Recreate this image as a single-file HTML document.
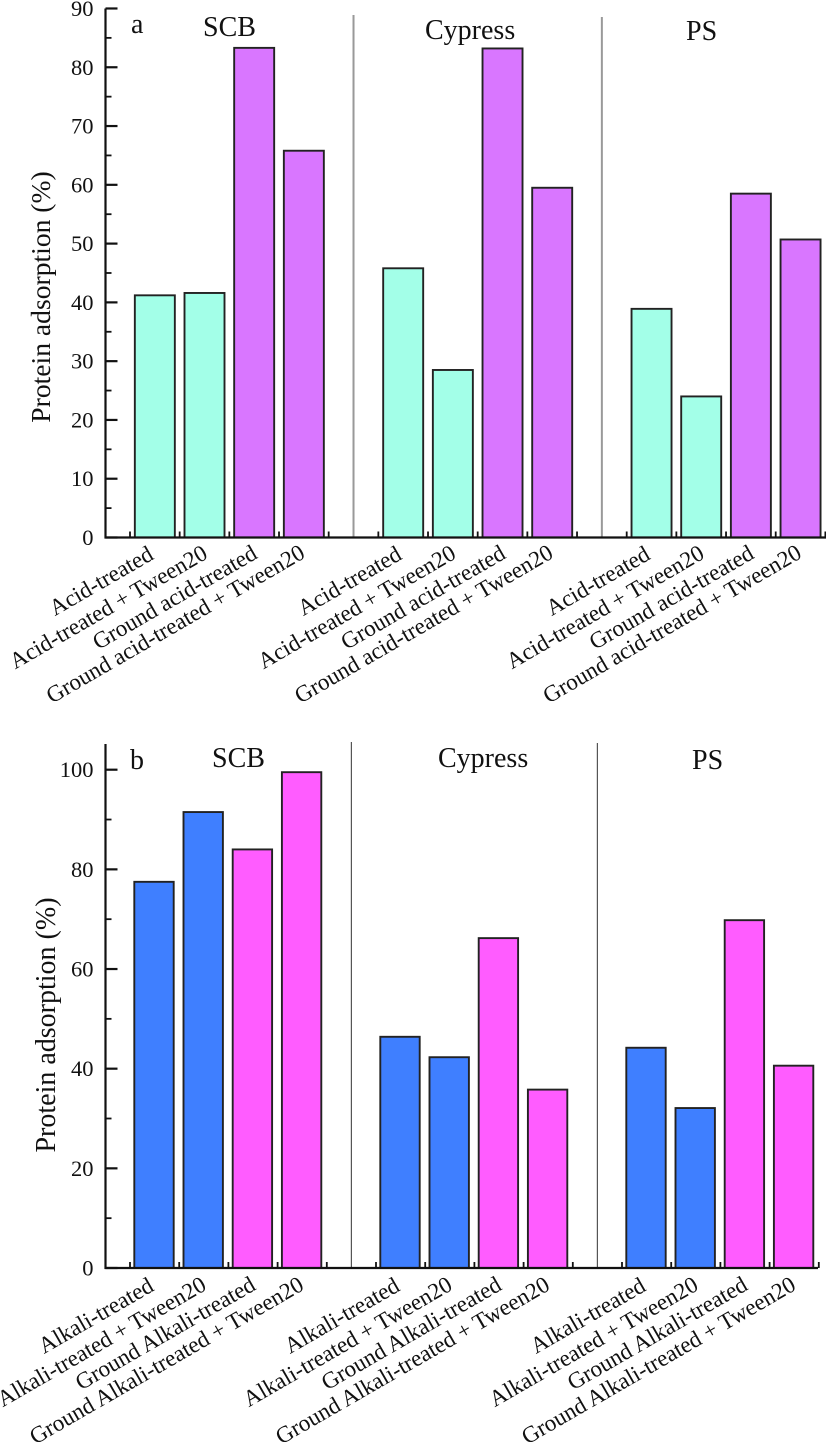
<!DOCTYPE html>
<html>
<head>
<meta charset="utf-8">
<style>
html,body{margin:0;padding:0;background:#fff;width:826px;height:1442px;overflow:hidden}
svg{display:block}
text{font-family:"Liberation Serif",serif;fill:#111}
</style>
</head>
<body>
<svg id="fig" width="826" height="1442" viewBox="0 0 826 1442" xmlns="http://www.w3.org/2000/svg"></svg>
<script>
const groupsA = ["SCB", "Cypress", "PS"];
const categoriesA = ["Acid-treated", "Acid-treated + Tween20", "Ground acid-treated", "Ground acid-treated + Tween20"];
const scbA = [41.2, 41.6, 83.3, 65.8];
const cypressA = [45.8, 28.5, 83.2, 59.5];
const psA = [38.9, 24.0, 58.5, 50.7];
const yTicksA = [0, 10, 20, 30, 40, 50, 60, 70, 80, 90];
const yMinorA = [5, 15, 25, 35, 45, 55, 65, 75, 85];

const groupsB = ["SCB", "Cypress", "PS"];
const categoriesB = ["Alkali-treated", "Alkali-treated + Tween20", "Ground Alkali-treated", "Ground Alkali-treated + Tween20"];
const scbB = [77.5, 91.5, 84.0, 99.5];
const cypressB = [46.4, 42.3, 66.2, 35.8];
const psB = [44.2, 32.1, 69.8, 40.6];
const yTicksB = [0, 20, 40, 60, 80, 100];
const yMinorB = [10, 30, 50, 70, 90];

const NS = "http://www.w3.org/2000/svg";
const fig = document.getElementById("fig");

function make(parent, tag, attrs, txt) {
  const el = document.createElementNS(NS, tag);
  for (const k in attrs) el.setAttribute(k, attrs[k]);
  if (txt !== undefined) el.textContent = txt;
  parent.appendChild(el);
  return el;
}

function drawPanel(p) {
  const g = make(fig, "g", {});
  
  

  const yScale = v => p.y0 - v * p.yUnit;
  const slotX = i => p.x0 + i * p.step;
  const barW = p.barW;

  p.series.forEach((vals, gi) => {
    vals.forEach((v, ci) => {
      const slot = gi * 5 + ci;
      const x = slotX(slot) + (p.step - barW) / 2 + p.barDx;
      const bar = make(g, "rect", {
        x: x, y: yScale(v), width: barW, height: p.y0 - yScale(v),
        fill: ci < 2 ? p.colorA : p.colorB, stroke: "#222", "stroke-width": 1.9
      });
      
      

      const n = ci === 0 ? p.catNudge[0] : (ci === 3 ? p.catNudge[2] : p.catNudge[1]);
      const lab = make(g, "text", {
        "text-anchor": "end", "font-size": p.catSize,
        transform: "translate(" + (slotX(slot) + p.step / 2 + n[0]) + "," + (p.catY + n[1]) + ") rotate(-30)"
      }, p.categories[ci]);
      
      
    });
  });

  p.dividers.forEach((d, i) => {
    const line = make(g, "line", {
      x1: slotX(4 + i * 5) + p.step / 2, x2: slotX(4 + i * 5) + p.step / 2,
      y1: d, y2: p.y0, stroke: p.divColor, "stroke-width": p.divWidth
    });
    
    
  });

  for (let i = 0; i < 15; i++) {
    const t = make(g, "line", {
      x1: slotX(i), x2: slotX(i), y1: p.y0, y2: p.y0 - 6, stroke: "#111", "stroke-width": 1.8
    });
    
    
  }

  const xAxis = make(g, "line", {
    x1: p.axisX - 1, x2: p.xEnd, y1: p.y0, y2: p.y0, stroke: "#111", "stroke-width": 2.2
  });
  
  

  const yAxis = make(g, "line", {
    x1: p.axisX, x2: p.axisX, y1: p.yTop, y2: p.y0 + 1, stroke: "#111", "stroke-width": 2.2
  });
  
  

  p.yTicks.forEach(v => {
    const t = make(g, "line", {
      x1: p.axisX, x2: p.axisX + 12, y1: yScale(v), y2: yScale(v), stroke: "#111", "stroke-width": 2.2
    });
    
    
    const l = make(g, "text", {
      x: 93.5, y: yScale(v) + 7.5, "text-anchor": "end", "font-size": 22.5
    }, String(v));
    
    
  });
  p.yMinor.forEach(v => {
    const t = make(g, "line", {
      x1: p.axisX, x2: p.axisX + 6, y1: yScale(v), y2: yScale(v), stroke: "#111", "stroke-width": 1.8
    });
    
    
  });

  const title = make(g, "text", {
    "text-anchor": "middle", "font-size": p.titleSize,
    transform: "translate(" + p.titleX + "," + p.titleY + ") rotate(-90)"
  }, "Protein adsorption (%)");
  
  

  const panelLabel = make(g, "text", { x: p.letter[0], y: p.letter[1], "font-size": 28 }, p.id);
  
  

  p.groups.forEach((name, i) => {
    const h = make(g, "text", {
      x: p.heads[i][0], y: p.heads[i][1], "font-size": 28
    }, name);
    
    
  });
}

drawPanel({
  id: "a", series: [scbA, cypressA, psA], groups: groupsA, categories: categoriesA,
  yTicks: yTicksA, yMinor: yMinorA, colorA: "#A3FFE8", colorB: "#D976FF",
  x0: 130, step: 49.67, y0: 537.5, yUnit: 5.878, yTop: 8.5, axisX: 105.5, xEnd: 826,
  barW: 40, barDx: 0,
  catSize: 23.1, catNudge: [[0, -1.5], [4.5, -2.5], [2.5, -3]], catY: 560,
  dividers: [15, 17], divColor: "#999", divWidth: 2,
  titleSize: 27.6, titleX: 50, titleY: 297, letter: [131, 33],
  heads: [[203, 36], [425, 39], [686, 40]]
});

drawPanel({
  id: "b", series: [scbB, cypressB, psB], groups: groupsB, categories: categoriesB,
  yTicks: yTicksB, yMinor: yMinorB, colorA: "#3F7FFF", colorB: "#FF5CFF",
  x0: 130, step: 49.2, y0: 1268, yUnit: 4.983, yTop: 744, axisX: 105.5, xEnd: 818,
  barW: 39.4, barDx: -0.6,
  catSize: 23.1, catNudge: [[0.5, -2], [4, -3], [3, -3]], catY: 1292,
  dividers: [742, 743], divColor: "#555", divWidth: 1.2,
  titleSize: 28, titleX: 55, titleY: 1025, letter: [130, 769],
  heads: [[212, 767], [438, 767], [692, 769]]
});
</script>
</body>
</html>
